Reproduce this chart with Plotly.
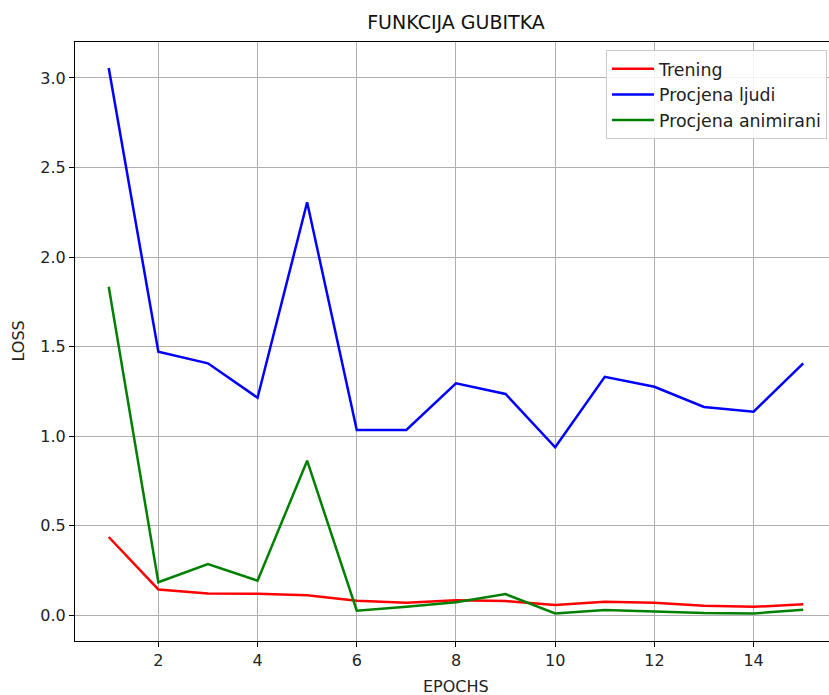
import plotly.graph_objects as go

epochs = list(range(1, 16))
trening = [0.436, 0.143, 0.121, 0.119, 0.110, 0.080, 0.069, 0.082, 0.078, 0.056, 0.074, 0.069, 0.052, 0.046, 0.060]
procjena_ljudi = [3.056, 1.471, 1.406, 1.214, 2.306, 1.034, 1.034, 1.294, 1.235, 0.937, 1.331, 1.275, 1.162, 1.136, 1.406]
procjena_animirani = [1.834, 0.183, 0.285, 0.192, 0.862, 0.024, 0.046, 0.071, 0.117, 0.009, 0.028, 0.018, 0.011, 0.009, 0.030]

x_ticks = [2, 4, 6, 8, 10, 12, 14]
y_ticks = [0.0, 0.5, 1.0, 1.5, 2.0, 2.5, 3.0]

FONT = "DejaVu Sans"
W, H = 829, 695
L, R, T, B = 75, 0, 42, 695 - 641
PW, PH = W - L - R, H - T - B

fig = go.Figure()
fig.add_trace(go.Scatter(x=epochs, y=trening, mode="lines", name="Trening",
                         line=dict(color="#ff0000", width=2.5)))
fig.add_trace(go.Scatter(x=epochs, y=procjena_ljudi, mode="lines", name="Procjena ljudi",
                         line=dict(color="#0000ff", width=2.5)))
fig.add_trace(go.Scatter(x=epochs, y=procjena_animirani, mode="lines", name="Procjena animirani",
                         line=dict(color="#008000", width=2.5)))

fig.update_layout(
    width=W, height=H,
    margin=dict(l=L, r=R, t=T, b=B, autoexpand=False),
    paper_bgcolor="white", plot_bgcolor="white",
    font=dict(family=FONT, size=16, color="#222222"),
    title=dict(text="FUNKCIJA GUBITKA", x=456 / W, xanchor="center",
               y=1 - 22 / H, yanchor="middle",
               font=dict(family=FONT, size=19, color="#111111")),
    showlegend=True,
    legend=dict(x=(606 - 75) / PW, y=1 - (50 - 42) / PH, xanchor="left", yanchor="top",
                bgcolor="rgba(255,255,255,0.85)", bordercolor="#cccccc", borderwidth=1,
                font=dict(family=FONT, size=17.4, color="#222222"),
                tracegroupgap=0, itemwidth=42),
    xaxis=dict(range=[0.32, 15.52], tickvals=x_ticks, ticktext=[str(v) for v in x_ticks],
               showgrid=True, gridcolor="#b0b0b0", gridwidth=1,
               showline=True, linecolor="black", linewidth=1.2, mirror=True,
               ticks="outside", ticklen=5, tickcolor="black", zeroline=False,
               automargin=False),
    yaxis=dict(range=[-0.145, 3.201], tickvals=y_ticks, ticktext=[f"{v:.1f}" for v in y_ticks],
               showgrid=True, gridcolor="#b0b0b0", gridwidth=1,
               showline=True, linecolor="black", linewidth=1.2, mirror=False,
               ticks="outside", ticklen=5, tickcolor="black", zeroline=False,
               automargin=False),
    annotations=[
        dict(text="EPOCHS", xref="paper", yref="paper", x=(456 - 75) / PW,
             y=-(686 - 641) / PH, xanchor="center", yanchor="middle",
             showarrow=False, font=dict(family=FONT, size=16, color="#222222")),
        dict(text="LOSS", xref="paper", yref="paper", x=-(75 - 18) / PW,
             y=0.5, xanchor="center", yanchor="middle", textangle=-90,
             showarrow=False, font=dict(family=FONT, size=16, color="#222222")),
    ],
)

fig.write_html(
    "out.html",
    config={"displayModeBar": False},
    post_script="document.body.style.margin='0';document.body.style.overflow='hidden';",
)
